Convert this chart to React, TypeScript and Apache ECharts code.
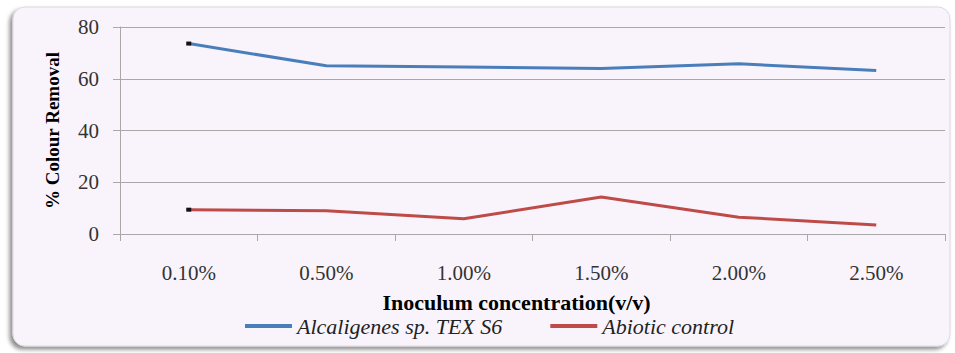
import React, { useEffect, useRef } from "react";
import * as echarts from "echarts";

const categories = ["0.10%", "0.50%", "1.00%", "1.50%", "2.00%", "2.50%"];
const alcaligenes = [73.6, 65.0, 64.5, 64.0, 65.8, 63.2];
const abiotic = [9.4, 9.0, 5.9, 14.3, 6.5, 3.5];
const yTicks = { min: 0, max: 80, interval: 20 };

const serif = "Liberation Serif";

function withStartMarker(values: number[]) {
  return values.map((v, i) =>
    i === 0
      ? { value: v, symbol: "rect", symbolSize: [5, 4], itemStyle: { color: "#111" } }
      : { value: v, symbol: "none" }
  );
}

export default function App() {
  const ref = useRef<HTMLDivElement>(null);
  useEffect(() => {
    if (!ref.current) return;
    const chart = echarts.init(ref.current, null, { renderer: "svg" });
    chart.setOption({
      animation: false,
      backgroundColor: "#ffffff",
      graphic: [
        {
          type: "rect",
          z: -10,
          shape: { x: 13, y: 7, width: 937, height: 339, r: 12 },
          style: {
            fill: "#f9f4fc",
            stroke: "#dcd8e0",
            lineWidth: 1,
            shadowBlur: 4,
            shadowOffsetX: -3,
            shadowOffsetY: 3,
            shadowColor: "rgba(0,0,0,0.45)",
          },
        },
      ],
      grid: { left: 120, right: 10, top: 27, bottom: 119, containLabel: false },
      xAxis: {
        type: "category",
        data: categories,
        boundaryGap: true,
        name: "Inoculum concentration(v/v)",
        nameLocation: "middle",
        nameGap: 57,
        nameTextStyle: {
          fontFamily: serif,
          fontSize: 22,
          fontWeight: "bold",
          color: "#000",
          padding: [0, 32, 0, 0],
        },
        axisLine: { show: true, lineStyle: { color: "#a8a8a8", width: 1 } },
        axisTick: { show: true, length: 7, alignWithLabel: false, lineStyle: { color: "#a8a8a8" } },
        axisLabel: { fontFamily: serif, fontSize: 21, color: "#333", margin: 28 },
        splitLine: { show: false },
      },
      yAxis: {
        type: "value",
        min: yTicks.min,
        max: yTicks.max,
        interval: yTicks.interval,
        name: "% Colour Removal",
        nameLocation: "middle",
        nameGap: 58,
        nameRotate: 90,
        nameTextStyle: { fontFamily: serif, fontSize: 19, fontWeight: "bold", color: "#000" },
        axisLine: { show: true, lineStyle: { color: "#a8a8a8", width: 1 } },
        axisTick: { show: true, length: 7, lineStyle: { color: "#a8a8a8" } },
        axisLabel: { fontFamily: serif, fontSize: 21, color: "#333", margin: 21 },
        splitLine: { show: true, lineStyle: { color: "#a8a8a8", width: 1 } },
      },
      legend: {
        bottom: 11,
        left: 240,
        itemWidth: 47,
        itemHeight: 4,
        itemGap: 48,
        icon: "rect",
        textStyle: { fontFamily: serif, fontSize: 22, fontStyle: "italic", color: "#222" },
        data: ["Alcaligenes sp. TEX S6", "Abiotic control"],
      },
      series: [
        {
          name: "Alcaligenes sp. TEX S6",
          type: "line",
          data: withStartMarker(alcaligenes),
          lineStyle: { color: "#4a7ebb", width: 3 },
          itemStyle: { color: "#4a7ebb" },
          showSymbol: true,
        },
        {
          name: "Abiotic control",
          type: "line",
          data: withStartMarker(abiotic),
          lineStyle: { color: "#be4b48", width: 3 },
          itemStyle: { color: "#be4b48" },
          showSymbol: true,
        },
      ],
    });
    return () => chart.dispose();
  }, []);
  return (
    <div
      ref={ref}
      style={{ position: "absolute", left: 0, top: 0, width: 955, height: 353 }}
    />
  );
}
